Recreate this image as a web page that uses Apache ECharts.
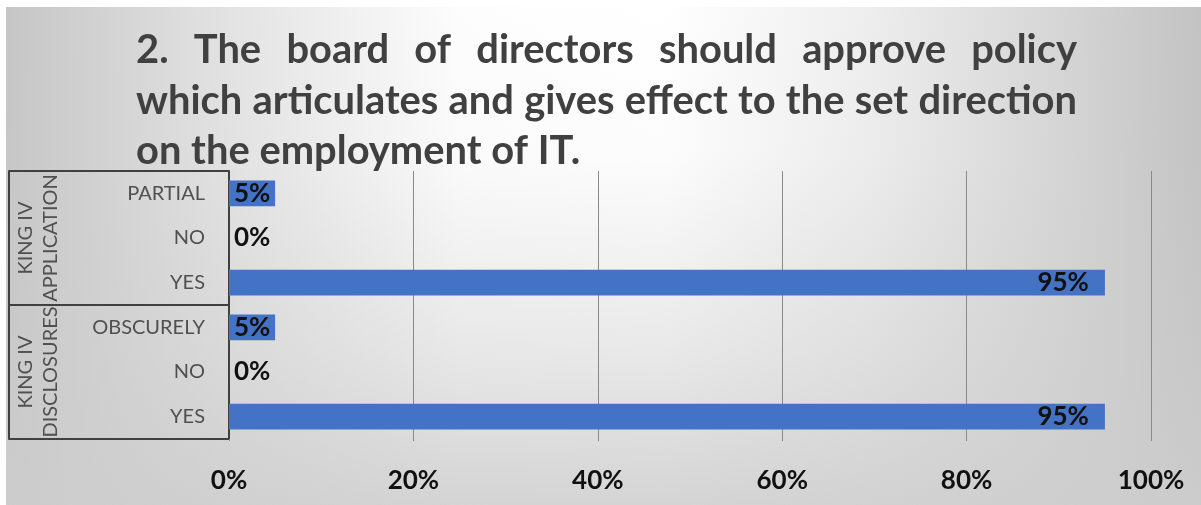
<!DOCTYPE html>
<html>
<head>
<meta charset="utf-8">
<script src="https://cdn.jsdelivr.net/npm/echarts@6/dist/echarts.min.js"></script>
<style>
  html, body { margin: 0; padding: 0; background: #ffffff; }
  #chart { width: 1201px; height: 505px; }
</style>
</head>
<body>
<div id="chart"></div>
<script>
// ---- chart content ----
const titleLines = [
  '2. The board of directors should approve policy',
  'which articulates and gives effect to the set direction',
  'on the employment of IT.'
];
const groupLabels = ['KING IV\nAPPLICATION', 'KING IV\nDISCLOSURES'];
const categories = ['PARTIAL', 'NO', 'YES', 'OBSCURELY', 'NO', 'YES'];
const values = [5, 0, 95, 5, 0, 95];
const axisMin = 0;
const axisMax = 100;
const axisStep = 20;

// ---- title layout: justified paragraph, last line left-aligned ----
const TITLE_FONT = 'Lato';
const TITLE_LEFT = 136;
const TITLE_RIGHT = 1077;
const TITLE_MID_Y = [50, 101, 151];
const measureCtx = document.createElement('canvas').getContext('2d');
function textWidth(str, size) {
  measureCtx.font = 'bold ' + size + 'px ' + TITLE_FONT;
  return measureCtx.measureText(str).width;
}
// size chosen so that the second line runs the full text column at natural spacing
const titleSize = Math.min(40, 100 * (TITLE_RIGHT - TITLE_LEFT - 4) / textWidth(titleLines[1], 100));

function titleWords() {
  const out = [];
  titleLines.forEach((line, li) => {
    const words = line.split(' ');
    const widths = words.map(w => textWidth(w, titleSize));
    const total = widths.reduce((a, b) => a + b, 0);
    const natural = textWidth(' ', titleSize);
    const justify = li < titleLines.length - 1;
    const gap = justify ? (TITLE_RIGHT - TITLE_LEFT - total) / (words.length - 1) : natural;
    let x = TITLE_LEFT;
    words.forEach((w, i) => {
      out.push({
        type: 'text',
        x: x,
        y: TITLE_MID_Y[li],
        z: 10,
        silent: true,
        style: {
          text: w,
          font: 'bold ' + titleSize.toFixed(2) + 'px ' + TITLE_FONT,
          fill: '#404040',
          align: 'left',
          verticalAlign: 'middle'
        }
      });
      x += widths[i] + gap;
    });
  });
  return out;
}

const chart = echarts.init(document.getElementById('chart'), null, { renderer: 'canvas' });

const axisColor = '#404040';
const labelFont = 'Lato';

chart.setOption({
  backgroundColor: '#ffffff',
  animation: false,
  graphic: [
    // soft grey backdrop, light towards the upper middle
    {
      type: 'rect', z: -100, silent: true,
      shape: { x: 6, y: 7, width: 1195, height: 498 },
      style: {
        fill: new echarts.graphic.LinearGradient(0, 0, 1, 0, [
          { offset: 0, color: '#c6c6c6' },
          { offset: 0.18, color: '#e2e2e2' },
          { offset: 0.38, color: '#fdfdfd' },
          { offset: 0.55, color: '#ffffff' },
          { offset: 0.72, color: '#eeeeee' },
          { offset: 0.88, color: '#d6d6d6' },
          { offset: 1, color: '#c3c3c3' }
        ])
      }
    },
    {
      type: 'rect', z: -99, silent: true,
      shape: { x: 6, y: 7, width: 1195, height: 498 },
      style: {
        fill: new echarts.graphic.LinearGradient(0, 0, 0, 1, [
          { offset: 0, color: 'rgba(200,200,200,0)' },
          { offset: 0.3, color: 'rgba(205,205,205,0.05)' },
          { offset: 0.7, color: 'rgba(205,205,205,0.45)' },
          { offset: 1, color: 'rgba(205,205,205,0.85)' }
        ])
      }
    }
  ].concat(titleWords()),
  grid: { left: 229, right: 50, top: 171, bottom: 66, containLabel: false },
  xAxis: {
    type: 'value',
    min: axisMin,
    max: axisMax,
    interval: axisStep,
    axisLine: { show: false },
    axisTick: { show: true, length: 2, lineStyle: { color: '#8a8a8a' } },
    splitLine: { show: true, lineStyle: { color: '#8a8a8a', width: 1 } },
    axisLabel: {
      formatter: '{value}%',
      fontFamily: labelFont,
      fontWeight: 'bold',
      fontSize: 26,
      color: '#111111',
      margin: 29
    }
  },
  yAxis: [
    {
      type: 'category',
      inverse: true,
      data: categories,
      axisLine: { show: true, lineStyle: { color: axisColor, width: 2 } },
      axisTick: { show: false },
      axisLabel: {
        interval: 0,
        fontFamily: labelFont,
        fontSize: 20,
        color: '#505050',
        margin: 24
      }
    },
    {
      type: 'category',
      inverse: true,
      position: 'left',
      offset: 220,
      data: groupLabels,
      axisLine: { show: true, lineStyle: { color: axisColor, width: 2 } },
      axisTick: { show: true, inside: true, interval: 0, length: 220, lineStyle: { color: axisColor, width: 2 } },
      axisLabel: {
        interval: 0,
        hideOverlap: false,
        inside: true,
        rotate: 90,
        margin: 29,
        align: 'center',
        verticalAlign: 'middle',
        lineHeight: 25,
        fontFamily: labelFont,
        fontSize: 20,
        color: '#505050'
      }
    }
  ],
  series: [
    {
      type: 'bar',
      yAxisIndex: 0,
      barWidth: '58%',
      itemStyle: { color: '#4472c4' },
      label: {
        show: true,
        formatter: '{c}%',
        fontFamily: labelFont,
        fontWeight: 'bold',
        fontSize: 26,
        color: '#111111'
      },
      data: values.map(v => ({
        value: v,
        label: v >= 50
          ? { position: 'insideRight', distance: 16 }
          : { position: 'insideLeft', distance: 5 }
      }))
    }
  ]
});
</script>
</body>
</html>
